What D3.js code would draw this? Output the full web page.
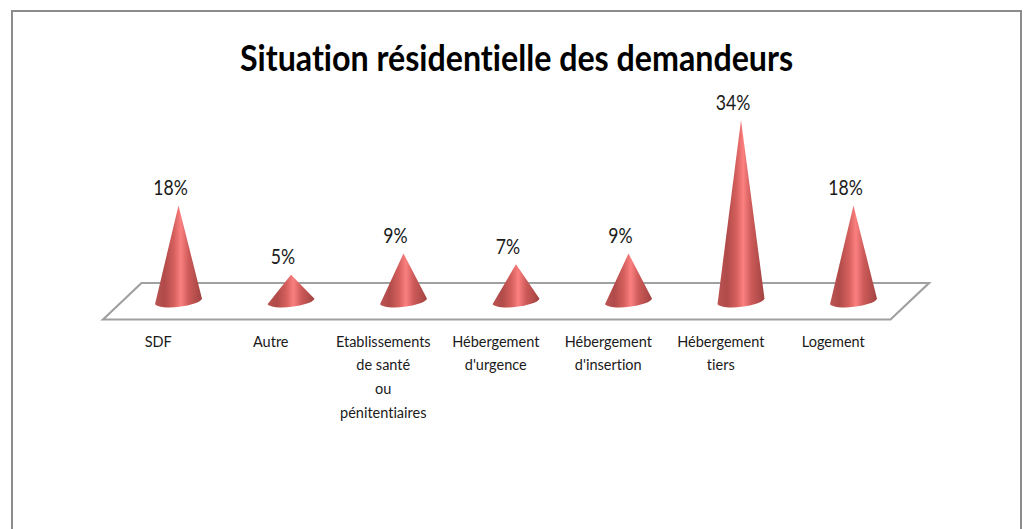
<!DOCTYPE html>
<html>
<head>
<meta charset="utf-8">
<script src="https://cdn.jsdelivr.net/npm/d3@7"></script>
<style>
    html, body { margin: 0; padding: 0; background: #fff; overflow: hidden; }
    text { font-family: Lato, sans-serif; fill: #1a1a1a; font-variant-ligatures: none; }
</style>
</head>
<body>
<div id="chart"></div>
<script>
const categories = ["SDF", "Autre", "Etablissements|de santé|ou|pénitentiaires", "Hébergement|d'urgence", "Hébergement|d'insertion", "Hébergement|tiers", "Logement"];
const values = [18, 5, 9, 7, 9, 34, 18];
const valueMax = 34;

const width = 1029;
const height = 529;

// the floor is a parallelogram, back edge pushed right by floorDepth
const floorFront = 319.5;
const floorBack = 283;
const floorDepth = 38.5;
const coneHalf = 23.5;
const coneTilt = 2.8;

// the original text is squeezed sideways, Lato alone comes out too wide
const titleSqueeze = 0.87;
const valueSqueeze = 0.86;

const svg = d3.select("#chart")
    .append("svg")
    .attr("width", width)
    .attr("height", height);

const x = d3.scaleBand()
    .domain(categories)
    .range([103, 890.5]);

const y = d3.scaleLinear()
    .domain([0, valueMax])
    .range([301.5, 120]);

// cone shading
const grad = svg.append("defs")
    .append("linearGradient")
    .attr("id", "coneFill")
    .attr("x1", 0).attr("x2", 1)
    .attr("y1", 0).attr("y2", 0);

[
    [0, "#bb5452"],
    [0.2, "#b04b49"],
    [0.4, "#d45f5d"],
    [0.55, "#fb8080"],
    [0.72, "#cc5a58"],
    [1, "#a04341"]
].forEach(d => grad.append("stop").attr("offset", d[0]).attr("stop-color", d[1]));

// chart frame, open at the bottom
svg.append("path")
    .attr("d", "M12,529V11H1021V529")
    .attr("fill", "none")
    .attr("stroke", "#8c8c8c")
    .attr("stroke-width", 2);

svg.append("text")
    .attr("transform", "translate(516.5,71) scale(" + titleSqueeze + ",1)")
    .attr("text-anchor", "middle")
    .style("font-size", "37px")
    .style("font-weight", "700")
    .style("fill", "#000")
    .text("Situation résidentielle des demandeurs");

const [x0, x1] = x.range();
svg.append("path")
    .attr("d", d3.line()([
        [x0, floorFront],
        [x0 + floorDepth, floorBack],
        [x1 + floorDepth, floorBack],
        [x1, floorFront]
    ]) + "Z")
    .attr("fill", "#fff")
    .attr("stroke", "#a0a0a0")
    .attr("stroke-width", 2.2);

const coneX = d => x(d) + x.bandwidth() / 2 + floorDepth / 2;

const conePath = (d, i) => {
    const cx = coneX(d);
    const left = [cx - coneHalf, y(0) + coneTilt];
    const right = [cx + coneHalf, y(0) - coneTilt];
    return "M" + cx + "," + y(values[i])
        + "L" + right
        + "A" + (coneHalf + 0.5) + ",6.5,-6.7,0,1," + left
        + "Z";
};

svg.selectAll(".cone")
    .data(categories)
    .join("path")
    .attr("class", "cone")
    .attr("d", conePath)
    .attr("fill", "url(#coneFill)");

svg.selectAll(".val")
    .data(categories)
    .join("text")
    .attr("class", "val")
    .attr("transform", (d, i) => "translate(" + (coneX(d) - 8) + "," + (y(values[i]) - 10.5) + ") scale(" + valueSqueeze + ",1)")
    .attr("text-anchor", "middle")
    .style("font-size", "20.5px")
    .text((d, i) => values[i] + "%");

// category axis, labels split on | into lines
const axis = svg.append("g")
    .attr("transform", "translate(-1," + 346.5 + ")")
    .call(d3.axisBottom(x).tickSize(0).tickPadding(0));

axis.select(".domain").remove();

axis.selectAll("text")
    .attr("y", 0)
    .attr("dy", 0)
    .style("font-size", "14.5px")
    .style("font-family", "Lato, sans-serif")
    .style("fill", "#1a1a1a")
    .text(null)
    .selectAll("tspan")
    .data(d => d.split("|"))
    .join("tspan")
    .attr("x", 0)
    .attr("y", (d, i) => i * 23.7)
    .text(d => d);
</script>
</body>
</html>
